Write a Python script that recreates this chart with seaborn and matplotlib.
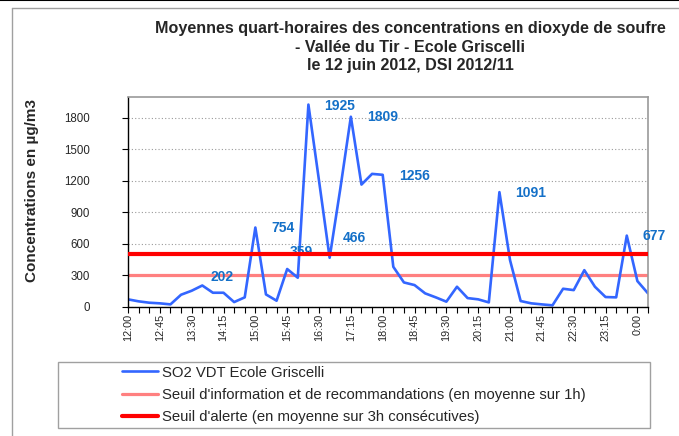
import numpy as np
import pandas as pd
import matplotlib
matplotlib.use("Agg")
import matplotlib.pyplot as plt
import seaborn as sns
from matplotlib.lines import Line2D
from matplotlib.patches import Rectangle

# ---------------- data ----------------
so2_values = [70, 51, 38, 32, 22, 114, 152, 202, 133, 133,
              44, 89, 754, 117, 57, 359, 276, 1925, 1200, 466,
              1120, 1809, 1163, 1265, 1256, 380, 231, 206, 127, 89,
              48, 190, 82, 70, 41, 1091, 443, 54, 32, 22,
              13, 171, 158, 348, 190, 92, 89, 677, 244, 127]
tick_labels = ["12:00", "12:45", "13:30", "14:15", "15:00", "15:45", "16:30",
               "17:15", "18:00", "18:45", "19:30", "20:15", "21:00", "21:45",
               "22:30", "23:15", "0:00"]
seuil_info = 300
seuil_alerte = 500
label_points = [7, 12, 15, 17, 19, 21, 24, 35, 47]
y_ticks = [0, 300, 600, 900, 1200, 1500, 1800]

series_name = "SO2 VDT Ecole Griscelli"
info_name = "Seuil d'information et de recommandations (en moyenne sur 1h)"
alerte_name = "Seuil d'alerte (en moyenne sur 3h consécutives)"
title_lines = ["Moyennes quart-horaires des concentrations en dioxyde de soufre",
               "- Vallée du Tir - Ecole Griscelli",
               "le 12 juin 2012, DSI 2012/11"]
ylabel = "Concentrations en µg/m3"

# label offsets in pixels (dx right, dy up)
label_offsets = [(8, 8), (16, 0), (3, 17), (16, -1), (13, 20), (16, 0), (16, -1), (16, -1), (16, 0)]

# ---------------- style ----------------
sns.set_style("white")
plt.rcParams["font.family"] = ["Liberation Sans", "DejaVu Sans"]

W, H = 679, 436
fig = plt.figure(figsize=(W / 100, H / 100), dpi=100)
fig.patch.set_facecolor("white")

def fx(px):
    return px / W

def fy(py):
    return 1 - py / H

ax = fig.add_axes([fx(128), fy(306.7), fx(648) - fx(128), fy(96.7) - fy(306.7)])

df = pd.DataFrame({"idx": np.arange(len(so2_values)), "val": so2_values})

sns.lineplot(data=df, x="idx", y="val", ax=ax, color="#3366FF", linewidth=1.9,
             label=series_name, zorder=2.5)
ax.axhline(seuil_info, color="#FF8080", linewidth=2.3, label=info_name, zorder=2)
ax.axhline(seuil_alerte, color="#FF0000", linewidth=3.0, label=alerte_name, zorder=5)

ax.set_xlim(0, len(so2_values) - 1)
ax.set_ylim(0, 2000)
ax.set_yticks(y_ticks)
ax.set_yticklabels([str(v) for v in y_ticks], fontsize=8.3)
ax.set_xticks(np.arange(len(so2_values)))
xl = [""] * len(so2_values)
for k, lab in enumerate(tick_labels):
    xl[3 * k] = lab
ax.set_xticklabels(xl, rotation=90, fontsize=7.8)
ax.set_xlabel("")
ax.set_ylabel("")

ax.tick_params(axis="y", which="major", direction="out", length=4, width=0.8,
               color="black", pad=23.3, left=True)
ax.tick_params(axis="x", which="major", direction="out", length=4, width=0.8,
               color="black", pad=1.3, bottom=True)

ax.yaxis.grid(True, linestyle=(0, (1, 2)), color="#9A9A9A", linewidth=0.8)
ax.xaxis.grid(False)
ax.set_axisbelow(True)

for side in ["left", "bottom"]:
    ax.spines[side].set_color("black")
    ax.spines[side].set_linewidth(1.0)
for side in ["top", "right"]:
    ax.spines[side].set_color("#9A9A9A")
    ax.spines[side].set_linewidth(1.2)

# data labels
for i, (dx, dy) in zip(label_points, label_offsets):
    ax.annotate(str(so2_values[i]), xy=(i, so2_values[i]), xytext=(dx * 0.72, dy * 0.72),
                textcoords="offset points", ha="left", va="center",
                fontsize=10, fontweight="bold", color="#1470C8", zorder=3)

# remove axes legend, build figure legend
if ax.get_legend() is not None:
    ax.get_legend().remove()
handles, labels = ax.get_legend_handles_labels()
leg = fig.legend(handles, labels, loc="upper left",
                 bbox_to_anchor=(fx(122), fy(365.7)), frameon=False,
                 fontsize=10.7, handlelength=2.45, handletextpad=0.22,
                 labelspacing=0.557, borderpad=0, borderaxespad=0)

fig.add_artist(Rectangle((fx(57.7), fy(428)), fx(650) - fx(57.7), fy(361.7) - fy(428),
                         transform=fig.transFigure, fill=False, edgecolor="#A0A0A0",
                         linewidth=1.0))

# title
for line, base in zip(title_lines, [33.3, 51.5, 69.8]):
    fig.text(fx(410), fy(base), line, ha="center", va="baseline",
             fontsize=11.6, fontweight="bold")

fig.text(fx(32), fy(190), ylabel, rotation=90, ha="center", va="center",
         fontsize=11, fontweight="bold")

# chart-area frame lines
fig.add_artist(Line2D([0, 1], [fy(0.5), fy(0.5)], transform=fig.transFigure,
                      color="black", linewidth=1.5))
fig.add_artist(Line2D([fx(12), 1], [fy(8.3), fy(8.3)], transform=fig.transFigure,
                      color="#A0A0A0", linewidth=1.0))
fig.add_artist(Line2D([fx(12), fx(12)], [fy(8.3), 0], transform=fig.transFigure,
                      color="#A0A0A0", linewidth=1.0))

fig.savefig("out.png", dpi=100, facecolor="white")
